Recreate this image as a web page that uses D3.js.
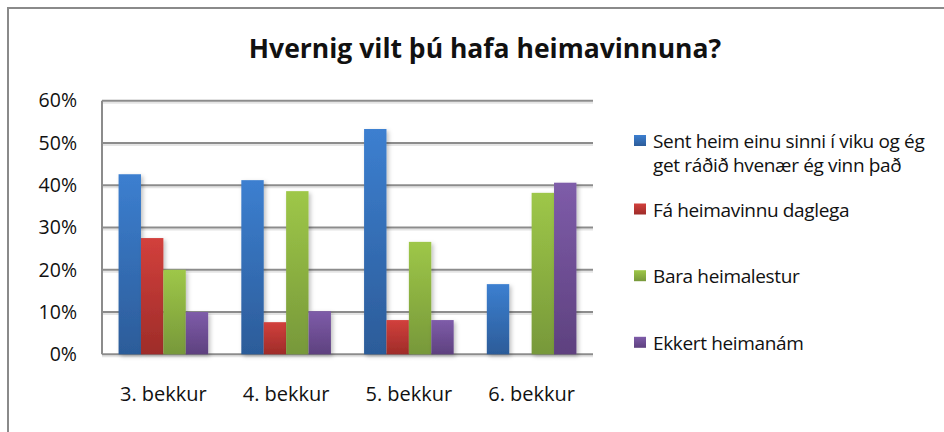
<!DOCTYPE html>
<html>
<head>
<meta charset="utf-8">
<script src="https://cdn.jsdelivr.net/npm/d3@7"></script>
<style>
  body { margin: 0; background: #fff; }
  text { font-family: "Open Sans", sans-serif; fill: #111; }
</style>
</head>
<body>
<svg id="canvas" width="944" height="432"></svg>
<script>
// data
const grades = ["3. bekkur", "4. bekkur", "5. bekkur", "6. bekkur"];
const seriesNames = [
  "Sent heim einu sinni í viku og ég get ráðið hvenær ég vinn það",
  "Fá heimavinnu daglega",
  "Bara heimalestur",
  "Ekkert heimanám"
];
const sentHeim = [42.6, 41.2, 53.3, 16.6];
const daglega = [27.5, 7.6, 8.1, 0];
const heimalestur = [20.0, 38.6, 26.6, 38.2];
const ekkert = [10.0, 10.2, 8.1, 40.6];
const yTicks = [0, 10, 20, 30, 40, 50, 60];

const values = [sentHeim, daglega, heimalestur, ekkert];
const colorTop = ["#3c7fd0", "#d2403c", "#9ec748", "#7e5ca9"];
const colorBot = ["#2c5c99", "#9e2c29", "#77983a", "#5e417f"];

const svg = d3.select("#canvas");

// outer border
svg.append("path")
  .attr("d", "M8,432 V8 H944")
  .attr("fill", "none")
  .attr("stroke", "#8a8a8a")
  .attr("stroke-width", 2);

const defs = svg.append("defs");
colorTop.forEach((c, i) => {
  const g = defs.append("linearGradient")
    .attr("id", "grad" + i)
    .attr("x1", 0).attr("y1", 0).attr("x2", 0).attr("y2", 1);
  g.append("stop").attr("offset", "0%").attr("stop-color", c);
  g.append("stop").attr("offset", "100%").attr("stop-color", colorBot[i]);
});
const f = defs.append("filter").attr("id", "shadow")
  .attr("x", "-30%").attr("y", "-10%").attr("width", "160%").attr("height", "130%");
f.append("feDropShadow").attr("dx", 2).attr("dy", 2).attr("stdDeviation", 2)
  .attr("flood-color", "#000").attr("flood-opacity", 0.25);

const plotLeft = 102, plotRight = 593, plotTop = 100.7, plotBottom = 354.3;

const x = d3.scaleBand().domain(grades).range([plotLeft, plotRight]).paddingInner(0.27).paddingOuter(0.135);
const xs = d3.scaleBand().domain(d3.range(4)).range([0, x.bandwidth()]);
const y = d3.scaleLinear().domain([0, 60]).range([plotBottom, plotTop]);

// title
svg.append("text")
  .attr("x", 485).attr("y", 58)
  .attr("text-anchor", "middle")
  .style("font-size", "26.5px").style("font-weight", "bold")
  .text("Hvernig vilt þú hafa heimavinnuna?");

// gridlines (light shadow line under each)
const grid = svg.append("g");
grid.selectAll("line.sh")
  .data(yTicks)
  .join("line")
  .attr("class", "sh")
  .attr("x1", plotLeft).attr("x2", plotRight)
  .attr("y1", d => y(d) + 2).attr("y2", d => y(d) + 2)
  .attr("stroke", "#e4e4e4")
  .attr("stroke-width", 2);
grid.selectAll("line.gl")
  .data(yTicks)
  .join("line")
  .attr("class", "gl")
  .attr("x1", plotLeft).attr("x2", plotRight)
  .attr("y1", d => y(d)).attr("y2", d => y(d))
  .attr("stroke", "#8c8c8c")
  .attr("stroke-width", 2);

svg.append("line")
  .attr("x1", plotLeft).attr("x2", plotLeft)
  .attr("y1", plotTop).attr("y2", plotBottom)
  .attr("stroke", "#8c8c8c").attr("stroke-width", 2);

// y labels
const yAxis = d3.axisLeft(y).tickValues(yTicks).tickSize(0).tickPadding(25).tickFormat(d => d + "%");
const ya = svg.append("g").attr("transform", `translate(${plotLeft},0)`).call(yAxis);
ya.select(".domain").remove();
ya.selectAll("text").style("font-size", "19.5px").style("font-family", "'Open Sans', sans-serif").attr("fill", "#111");

// x labels
const xAxis = d3.axisBottom(x).tickSize(0).tickPadding(33);
const xa = svg.append("g").attr("transform", `translate(0,${plotBottom})`).call(xAxis);
xa.select(".domain").remove();
xa.selectAll("text").style("font-size", "20px").style("font-family", "'Open Sans', sans-serif").attr("fill", "#111");

// bars
const bars = [];
grades.forEach((g, gi) => {
  values.forEach((vals, si) => {
    bars.push({ grade: g, s: si, v: vals[gi] });
  });
});
svg.append("g").selectAll("rect")
  .data(bars.filter(d => d.v > 0))
  .join("rect")
  .attr("x", d => x(d.grade) + xs(d.s))
  .attr("width", xs.bandwidth())
  .attr("y", d => y(d.v))
  .attr("height", d => plotBottom - y(d.v))
  .attr("fill", d => "url(#grad" + d.s + ")")
  .attr("filter", "url(#shadow)");

// legend
const legendY = [140.5, 209, 275.7, 342.3];
const lg = svg.append("g").selectAll("g")
  .data(seriesNames)
  .join("g")
  .attr("transform", (d, i) => `translate(634,${legendY[i]})`);
lg.append("rect")
  .attr("x", 0).attr("y", -5.5).attr("width", 12).attr("height", 11)
  .attr("fill", (d, i) => "url(#grad" + i + ")");
lg.each(function (d, i) {
  const t = d3.select(this).append("text")
    .attr("x", 19).attr("y", 7.5)
    .style("font-size", "19px")
    .style("letter-spacing", "-0.35px");
  if (i === 0) {
    t.append("tspan").attr("x", 19).text("Sent heim einu sinni í viku og ég");
    t.append("tspan").attr("x", 19).attr("dy", 24).text("get ráðið hvenær ég vinn það");
  } else {
    t.text(d);
  }
});
</script>
</body>
</html>
